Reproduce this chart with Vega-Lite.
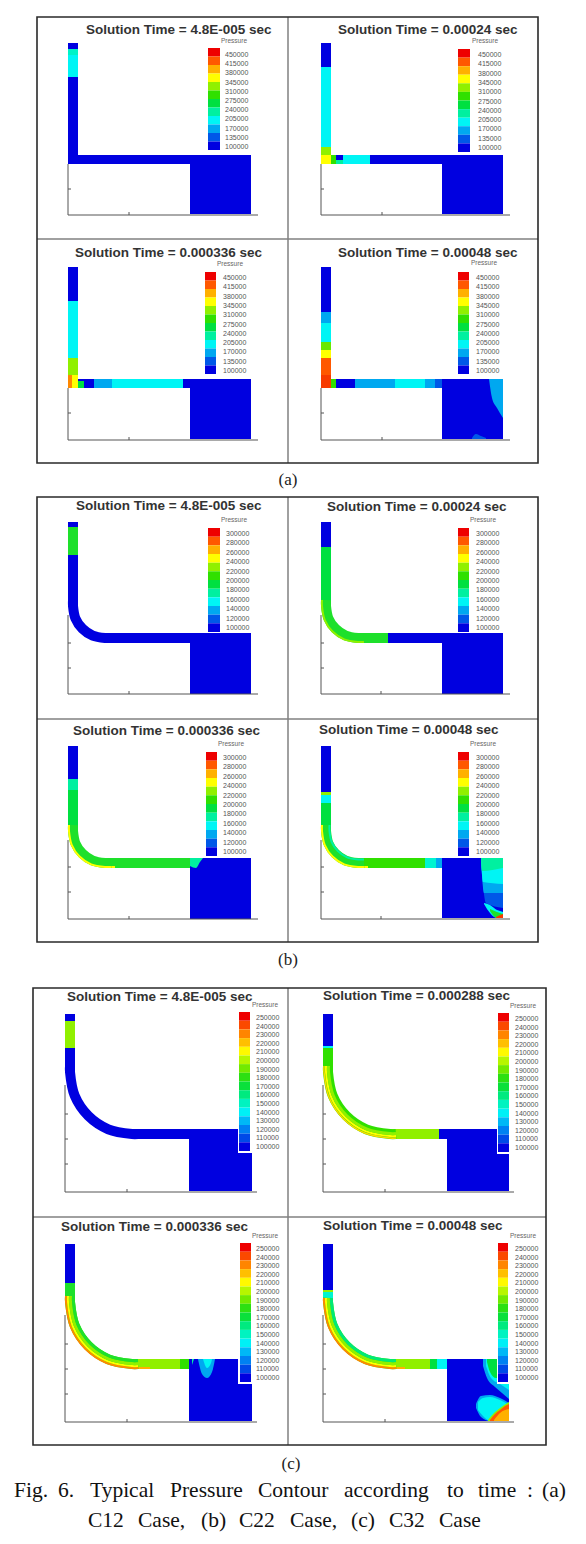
{"$schema":"https://vega.github.io/schema/vega-lite/v6.json","width":586,"height":1544,"padding":0,"autosize":{"type":"fit","contains":"padding"},"background":"white","config":{"view":{"stroke":null}},
"datasets":{
"cells":[
{"x":68,"x2":78,"y":43,"y2":164,"level":0},{"x":68,"x2":251,"y":155,"y2":164,"level":0},{"x":190,"x2":251,"y":155,"y2":214,"level":0},{"x":68,"x2":78,"y":49,"y2":55,"level":3.6},{"x":68,"x2":78,"y":55,"y2":77,"level":3},
{"x":321,"x2":331,"y":43,"y2":164,"level":0},{"x":321,"x2":503,"y":155,"y2":164,"level":0},{"x":442,"x2":503,"y":155,"y2":214,"level":0},{"x":321,"x2":331,"y":67,"y2":147,"level":3},{"x":321,"x2":331,"y":147,"y2":155,"level":7},{"x":321,"x2":331,"y":155,"y2":164,"level":8},{"x":331,"x2":336,"y":155,"y2":164,"level":6},{"x":336,"x2":343,"y":160,"y2":164,"level":4},{"x":343,"x2":370,"y":155,"y2":164,"level":3},
{"x":68,"x2":78,"y":267,"y2":388,"level":0},{"x":68,"x2":251,"y":379,"y2":388,"level":0},{"x":190,"x2":251,"y":379,"y2":439,"level":0},{"x":68,"x2":78,"y":301,"y2":358,"level":3},{"x":68,"x2":78,"y":358,"y2":375,"level":7},{"x":68,"x2":78,"y":375,"y2":388,"level":8},{"x":68,"x2":72,"y":375,"y2":388,"level":9.5},{"x":78,"x2":84,"y":381,"y2":388,"level":5},{"x":94,"x2":112,"y":379,"y2":388,"level":2},{"x":112,"x2":183,"y":379,"y2":388,"level":3},
{"x":321,"x2":331,"y":267,"y2":388,"level":0},{"x":321,"x2":503,"y":379,"y2":388,"level":0},{"x":442,"x2":503,"y":379,"y2":439,"level":0},{"x":321,"x2":331,"y":312,"y2":323,"level":2},{"x":321,"x2":331,"y":323,"y2":342,"level":3},{"x":321,"x2":331,"y":342,"y2":350,"level":6.5},{"x":321,"x2":331,"y":350,"y2":358,"level":8},{"x":321,"x2":331,"y":358,"y2":375,"level":10},{"x":321,"x2":331,"y":375,"y2":388,"level":10.5},{"x":331,"x2":336,"y":379,"y2":388,"level":6},{"x":355,"x2":395,"y":379,"y2":388,"level":2},{"x":395,"x2":425,"y":379,"y2":388,"level":3},{"x":425,"x2":435,"y":379,"y2":388,"level":2},{"x":435,"x2":442,"y":379,"y2":388,"level":1},
{"x":68,"x2":78,"y":522,"y2":606,"level":0},{"x":68,"x2":78,"y":527,"y2":555,"level":5.5},{"x":105,"x2":251,"y":633,"y2":643,"level":0},{"x":190,"x2":251,"y":633,"y2":694,"level":0},
{"x":321,"x2":331,"y":522,"y2":606,"level":0},{"x":321,"x2":331,"y":547,"y2":606,"level":5},{"x":358,"x2":503,"y":633,"y2":643,"level":0},{"x":358,"x2":388,"y":633,"y2":643,"level":5.5},{"x":442,"x2":503,"y":633,"y2":694,"level":0},
{"x":68,"x2":78,"y":746,"y2":831,"level":0},{"x":68,"x2":78,"y":779,"y2":790,"level":4},{"x":68,"x2":78,"y":790,"y2":831,"level":5},{"x":105,"x2":251,"y":858,"y2":868,"level":0},{"x":105,"x2":191,"y":858,"y2":868,"level":5.5},{"x":105,"x2":115,"y":866,"y2":868,"level":8},{"x":190,"x2":251,"y":858,"y2":919,"level":0},
{"x":321,"x2":331,"y":746,"y2":831,"level":0},{"x":321,"x2":331,"y":792,"y2":795,"level":7},{"x":321,"x2":331,"y":795,"y2":803,"level":3},{"x":321,"x2":331,"y":803,"y2":831,"level":5},{"x":358,"x2":503,"y":858,"y2":868,"level":0},{"x":358,"x2":425,"y":858,"y2":868,"level":6},{"x":358,"x2":368,"y":866,"y2":868,"level":8},{"x":425,"x2":436,"y":858,"y2":868,"level":3.5},{"x":436,"x2":442,"y":858,"y2":868,"level":2},{"x":442,"x2":503,"y":858,"y2":918,"level":0},
{"x":65,"x2":75,"y":1014,"y2":1072,"level":0},{"x":65,"x2":75,"y":1021,"y2":1048,"level":7},{"x":132,"x2":252,"y":1129,"y2":1139,"level":0},{"x":189,"x2":252,"y":1129,"y2":1191,"level":0},
{"x":323,"x2":333,"y":1014,"y2":1072,"level":0},{"x":323,"x2":333,"y":1046,"y2":1048,"level":3},{"x":323,"x2":333,"y":1048,"y2":1072,"level":6},{"x":390,"x2":509,"y":1129,"y2":1139,"level":0},{"x":390,"x2":439,"y":1129,"y2":1139,"level":7},{"x":447,"x2":509,"y":1129,"y2":1191,"level":0},
{"x":65,"x2":75,"y":1244,"y2":1302,"level":0},{"x":65,"x2":75,"y":1283,"y2":1297,"level":5.5},{"x":65,"x2":75,"y":1297,"y2":1302,"level":7},{"x":132,"x2":189,"y":1359,"y2":1369,"level":7},{"x":132,"x2":150,"y":1367,"y2":1369,"level":9},{"x":180,"x2":189,"y":1359,"y2":1369,"level":6},{"x":189,"x2":252,"y":1359,"y2":1421,"level":0},
{"x":323,"x2":333,"y":1244,"y2":1302,"level":0},{"x":323,"x2":333,"y":1290,"y2":1292,"level":7},{"x":323,"x2":333,"y":1292,"y2":1302,"level":3.5},{"x":390,"x2":430,"y":1359,"y2":1369,"level":7},{"x":390,"x2":405,"y":1367,"y2":1369,"level":9},{"x":430,"x2":437,"y":1359,"y2":1369,"level":5},{"x":437,"x2":447,"y":1359,"y2":1369,"level":3},{"x":447,"x2":509,"y":1359,"y2":1421,"level":0}
],
"bends":[
{"r":"b1","i":0,"x":73,"y":606,"w":10,"level":0},{"r":"b1","i":1,"x":75.4,"y":618.3,"w":10,"level":0},{"r":"b1","i":2,"x":82.4,"y":628.6,"w":10,"level":0},{"r":"b1","i":3,"x":92.7,"y":635.6,"w":10,"level":0},{"r":"b1","i":4,"x":105,"y":638,"w":10,"level":0},{"r":"b1","i":-1,"x":73,"y":600,"w":10,"level":0},{"r":"b1","i":5,"x":111,"y":638,"w":10,"level":0},
{"r":"b2","i":0,"x":326,"y":606,"w":10,"level":5.5},{"r":"b2","i":1,"x":328.4,"y":618.3,"w":10,"level":5.5},{"r":"b2","i":2,"x":335.4,"y":628.6,"w":10,"level":5.5},{"r":"b2","i":3,"x":345.7,"y":635.6,"w":10,"level":5.5},{"r":"b2","i":4,"x":358,"y":638,"w":10,"level":5.5},{"r":"b2","i":-1,"x":326,"y":600,"w":10,"level":5.5},{"r":"b2","i":5,"x":364,"y":638,"w":10,"level":5.5},
{"r":"b2o","i":0,"x":322,"y":606,"w":2,"level":7},{"r":"b2o","i":1,"x":324.7,"y":619.8,"w":2,"level":7},{"r":"b2o","i":2,"x":332.5,"y":631.5,"w":2,"level":7},{"r":"b2o","i":3,"x":344.2,"y":639.3,"w":2,"level":7},{"r":"b2o","i":4,"x":358,"y":642,"w":2,"level":7},{"r":"b2o","i":-1,"x":322,"y":600,"w":2,"level":7},{"r":"b2o","i":5,"x":364,"y":642,"w":2,"level":7},
{"r":"b3","i":0,"x":73,"y":831,"w":10,"level":5.5},{"r":"b3","i":1,"x":75.4,"y":843.3,"w":10,"level":5.5},{"r":"b3","i":2,"x":82.4,"y":853.6,"w":10,"level":5.5},{"r":"b3","i":3,"x":92.7,"y":860.6,"w":10,"level":5.5},{"r":"b3","i":4,"x":105,"y":863,"w":10,"level":5.5},{"r":"b3","i":-1,"x":73,"y":825,"w":10,"level":5.5},{"r":"b3","i":5,"x":111,"y":863,"w":10,"level":5.5},
{"r":"b3o","i":0,"x":69,"y":831,"w":2,"level":8},{"r":"b3o","i":1,"x":71.7,"y":844.8,"w":2,"level":8},{"r":"b3o","i":2,"x":79.5,"y":856.5,"w":2,"level":8},{"r":"b3o","i":3,"x":91.2,"y":864.3,"w":2,"level":8},{"r":"b3o","i":4,"x":105,"y":867,"w":2,"level":8},{"r":"b3o","i":-1,"x":69,"y":825,"w":2,"level":8},{"r":"b3o","i":5,"x":111,"y":867,"w":2,"level":8},
{"r":"b4","i":0,"x":326,"y":831,"w":10,"level":5.5},{"r":"b4","i":1,"x":328.4,"y":843.3,"w":10,"level":5.5},{"r":"b4","i":2,"x":335.4,"y":853.6,"w":10,"level":5.5},{"r":"b4","i":3,"x":345.7,"y":860.6,"w":10,"level":5.5},{"r":"b4","i":4,"x":358,"y":863,"w":10,"level":5.5},{"r":"b4","i":-1,"x":326,"y":825,"w":10,"level":5.5},{"r":"b4","i":5,"x":364,"y":863,"w":10,"level":5.5},
{"r":"b4o","i":0,"x":322,"y":831,"w":2,"level":8},{"r":"b4o","i":1,"x":324.7,"y":844.8,"w":2,"level":8},{"r":"b4o","i":2,"x":332.5,"y":856.5,"w":2,"level":8},{"r":"b4o","i":3,"x":344.2,"y":864.3,"w":2,"level":8},{"r":"b4o","i":4,"x":358,"y":867,"w":2,"level":8},{"r":"b4o","i":-1,"x":322,"y":825,"w":2,"level":8},{"r":"b4o","i":5,"x":364,"y":867,"w":2,"level":8},
{"r":"b4n","i":0,"x":329.5,"y":831,"w":2,"level":4},{"r":"b4n","i":1,"x":331.7,"y":842,"w":2,"level":4},{"r":"b4n","i":2,"x":337.9,"y":851.1,"w":2,"level":4},{"r":"b4n","i":3,"x":347.1,"y":857.3,"w":2,"level":4},{"r":"b4n","i":4,"x":358,"y":859.5,"w":2,"level":4},{"r":"b4n","i":-1,"x":329.5,"y":825,"w":2,"level":4},{"r":"b4n","i":5,"x":364,"y":859.5,"w":2,"level":4},
{"r":"c1","i":0,"x":70,"y":1072,"w":10,"level":0},{"r":"c1","i":1,"x":74.7,"y":1095.7,"w":10,"level":0},{"r":"c1","i":2,"x":88.2,"y":1115.8,"w":10,"level":0},{"r":"c1","i":3,"x":108.3,"y":1129.3,"w":10,"level":0},{"r":"c1","i":4,"x":132,"y":1134,"w":10,"level":0},{"r":"c1","i":-1,"x":70,"y":1066,"w":10,"level":0},{"r":"c1","i":5,"x":138,"y":1134,"w":10,"level":0},
{"r":"c2","i":0,"x":328,"y":1072,"w":10,"level":6},{"r":"c2","i":1,"x":332.7,"y":1095.7,"w":10,"level":6},{"r":"c2","i":2,"x":346.2,"y":1115.8,"w":10,"level":6},{"r":"c2","i":3,"x":366.3,"y":1129.3,"w":10,"level":6},{"r":"c2","i":4,"x":390,"y":1134,"w":10,"level":6},{"r":"c2","i":-1,"x":328,"y":1066,"w":10,"level":6},{"r":"c2","i":5,"x":396,"y":1134,"w":10,"level":6},
{"r":"c2a","i":0,"x":324,"y":1072,"w":1.5,"level":8.5},{"r":"c2a","i":1,"x":329,"y":1097.3,"w":1.5,"level":8.5},{"r":"c2a","i":2,"x":343.3,"y":1118.7,"w":1.5,"level":8.5},{"r":"c2a","i":3,"x":364.7,"y":1133,"w":1.5,"level":8.5},{"r":"c2a","i":4,"x":390,"y":1138,"w":1.5,"level":8.5},{"r":"c2a","i":-1,"x":324,"y":1066,"w":1.5,"level":8.5},{"r":"c2a","i":5,"x":396,"y":1138,"w":1.5,"level":8.5},
{"r":"c2b","i":0,"x":326,"y":1072,"w":2,"level":8},{"r":"c2b","i":1,"x":330.9,"y":1096.5,"w":2,"level":8},{"r":"c2b","i":2,"x":344.8,"y":1117.2,"w":2,"level":8},{"r":"c2b","i":3,"x":365.5,"y":1131.1,"w":2,"level":8},{"r":"c2b","i":4,"x":390,"y":1136,"w":2,"level":8},{"r":"c2b","i":-1,"x":326,"y":1066,"w":2,"level":8},{"r":"c2b","i":5,"x":396,"y":1136,"w":2,"level":8},
{"r":"c2c","i":0,"x":328.5,"y":1072,"w":3,"level":7},{"r":"c2c","i":1,"x":333.2,"y":1095.5,"w":3,"level":7},{"r":"c2c","i":2,"x":346.5,"y":1115.5,"w":3,"level":7},{"r":"c2c","i":3,"x":366.5,"y":1128.8,"w":3,"level":7},{"r":"c2c","i":4,"x":390,"y":1133.5,"w":3,"level":7},{"r":"c2c","i":-1,"x":328.5,"y":1066,"w":3,"level":7},{"r":"c2c","i":5,"x":396,"y":1133.5,"w":3,"level":7},
{"r":"c3","i":0,"x":70,"y":1302,"w":10,"level":6},{"r":"c3","i":1,"x":74.7,"y":1325.7,"w":10,"level":6},{"r":"c3","i":2,"x":88.2,"y":1345.8,"w":10,"level":6},{"r":"c3","i":3,"x":108.3,"y":1359.3,"w":10,"level":6},{"r":"c3","i":4,"x":132,"y":1364,"w":10,"level":6},{"r":"c3","i":-1,"x":70,"y":1296,"w":10,"level":6},{"r":"c3","i":5,"x":138,"y":1364,"w":10,"level":6},
{"r":"c3a","i":0,"x":66,"y":1302,"w":2,"level":9.5},{"r":"c3a","i":1,"x":71,"y":1327.3,"w":2,"level":9.5},{"r":"c3a","i":2,"x":85.3,"y":1348.7,"w":2,"level":9.5},{"r":"c3a","i":3,"x":106.7,"y":1363,"w":2,"level":9.5},{"r":"c3a","i":4,"x":132,"y":1368,"w":2,"level":9.5},{"r":"c3a","i":-1,"x":66,"y":1296,"w":2,"level":9.5},{"r":"c3a","i":5,"x":138,"y":1368,"w":2,"level":9.5},
{"r":"c3b","i":0,"x":68,"y":1302,"w":2,"level":8},{"r":"c3b","i":1,"x":72.9,"y":1326.5,"w":2,"level":8},{"r":"c3b","i":2,"x":86.8,"y":1347.2,"w":2,"level":8},{"r":"c3b","i":3,"x":107.5,"y":1361.1,"w":2,"level":8},{"r":"c3b","i":4,"x":132,"y":1366,"w":2,"level":8},{"r":"c3b","i":-1,"x":68,"y":1296,"w":2,"level":8},{"r":"c3b","i":5,"x":138,"y":1366,"w":2,"level":8},
{"r":"c3c","i":0,"x":70.5,"y":1302,"w":3,"level":7},{"r":"c3c","i":1,"x":75.2,"y":1325.5,"w":3,"level":7},{"r":"c3c","i":2,"x":88.5,"y":1345.5,"w":3,"level":7},{"r":"c3c","i":3,"x":108.5,"y":1358.8,"w":3,"level":7},{"r":"c3c","i":4,"x":132,"y":1363.5,"w":3,"level":7},{"r":"c3c","i":-1,"x":70.5,"y":1296,"w":3,"level":7},{"r":"c3c","i":5,"x":138,"y":1363.5,"w":3,"level":7},
{"r":"c3d","i":0,"x":73.5,"y":1302,"w":3,"level":5.5},{"r":"c3d","i":1,"x":77.9,"y":1324.4,"w":3,"level":5.5},{"r":"c3d","i":2,"x":90.6,"y":1343.4,"w":3,"level":5.5},{"r":"c3d","i":3,"x":109.6,"y":1356.1,"w":3,"level":5.5},{"r":"c3d","i":4,"x":132,"y":1360.5,"w":3,"level":5.5},{"r":"c3d","i":-1,"x":73.5,"y":1296,"w":3,"level":5.5},{"r":"c3d","i":5,"x":138,"y":1360.5,"w":3,"level":5.5},
{"r":"c4","i":0,"x":328,"y":1302,"w":10,"level":6},{"r":"c4","i":1,"x":332.7,"y":1325.7,"w":10,"level":6},{"r":"c4","i":2,"x":346.2,"y":1345.8,"w":10,"level":6},{"r":"c4","i":3,"x":366.3,"y":1359.3,"w":10,"level":6},{"r":"c4","i":4,"x":390,"y":1364,"w":10,"level":6},{"r":"c4","i":-1,"x":328,"y":1298,"w":10,"level":6},{"r":"c4","i":5,"x":396,"y":1364,"w":10,"level":6},
{"r":"c4a","i":0,"x":324,"y":1302,"w":2,"level":9.5},{"r":"c4a","i":1,"x":329,"y":1327.3,"w":2,"level":9.5},{"r":"c4a","i":2,"x":343.3,"y":1348.7,"w":2,"level":9.5},{"r":"c4a","i":3,"x":364.7,"y":1363,"w":2,"level":9.5},{"r":"c4a","i":4,"x":390,"y":1368,"w":2,"level":9.5},{"r":"c4a","i":-1,"x":324,"y":1298,"w":2,"level":9.5},{"r":"c4a","i":5,"x":396,"y":1368,"w":2,"level":9.5},
{"r":"c4b","i":0,"x":326,"y":1302,"w":2,"level":8},{"r":"c4b","i":1,"x":330.9,"y":1326.5,"w":2,"level":8},{"r":"c4b","i":2,"x":344.8,"y":1347.2,"w":2,"level":8},{"r":"c4b","i":3,"x":365.5,"y":1361.1,"w":2,"level":8},{"r":"c4b","i":4,"x":390,"y":1366,"w":2,"level":8},{"r":"c4b","i":-1,"x":326,"y":1298,"w":2,"level":8},{"r":"c4b","i":5,"x":396,"y":1366,"w":2,"level":8},
{"r":"c4c","i":0,"x":328.5,"y":1302,"w":3,"level":7},{"r":"c4c","i":1,"x":333.2,"y":1325.5,"w":3,"level":7},{"r":"c4c","i":2,"x":346.5,"y":1345.5,"w":3,"level":7},{"r":"c4c","i":3,"x":366.5,"y":1358.8,"w":3,"level":7},{"r":"c4c","i":4,"x":390,"y":1363.5,"w":3,"level":7},{"r":"c4c","i":-1,"x":328.5,"y":1298,"w":3,"level":7},{"r":"c4c","i":5,"x":396,"y":1363.5,"w":3,"level":7},
{"r":"c4d","i":0,"x":331.5,"y":1302,"w":3,"level":4.5},{"r":"c4d","i":1,"x":335.9,"y":1324.4,"w":3,"level":4.5},{"r":"c4d","i":2,"x":348.6,"y":1343.4,"w":3,"level":4.5},{"r":"c4d","i":3,"x":367.6,"y":1356.1,"w":3,"level":4.5},{"r":"c4d","i":4,"x":390,"y":1360.5,"w":3,"level":4.5},{"r":"c4d","i":-1,"x":331.5,"y":1298,"w":3,"level":4.5},{"r":"c4d","i":5,"x":396,"y":1360.5,"w":3,"level":4.5}
],
"blobs":[
{"r":"a4r","x":489,"y":379,"y2":379,"level":2},{"r":"a4r","x":492,"y":379,"y2":398,"level":2},{"r":"a4r","x":497,"y":379,"y2":408,"level":2},{"r":"a4r","x":503,"y":379,"y2":418,"level":2},
{"r":"a4b","x":472,"y":438,"y2":439,"level":1},{"r":"a4b","x":476,"y":434,"y2":439,"level":1},{"r":"a4b","x":481,"y":436,"y2":439,"level":1},{"r":"a4b","x":486,"y":438,"y2":439,"level":1},
{"r":"b3t","x":190,"y":858,"y2":866,"level":4},{"r":"b3t","x":196,"y":858,"y2":868,"level":4},{"r":"b3t","x":200,"y":858,"y2":862,"level":4},{"r":"b3t","x":203,"y":858,"y2":858,"level":4},
{"r":"b4l1","x":481,"y":858,"y2":858,"level":1},{"r":"b4l1","x":486,"y":858,"y2":903,"level":1},{"r":"b4l1","x":503,"y":858,"y2":908,"level":1},
{"r":"b4l2","x":481,"y":858,"y2":858,"level":2},{"r":"b4l2","x":484,"y":858,"y2":893,"level":2},{"r":"b4l2","x":503,"y":858,"y2":893,"level":2},
{"r":"b4l3","x":481,"y":858,"y2":858,"level":3},{"r":"b4l3","x":483,"y":858,"y2":882,"level":3},{"r":"b4l3","x":503,"y":858,"y2":884,"level":3},
{"r":"b4l4","x":481,"y":858,"y2":858,"level":4},{"r":"b4l4","x":482,"y":858,"y2":871,"level":4},{"r":"b4l4","x":503,"y":858,"y2":868,"level":4},
{"r":"b4c","x":484,"y":903,"y2":904,"level":3},{"r":"b4c","x":490,"y":905,"y2":913,"level":3},{"r":"b4c","x":497,"y":910,"y2":918,"level":3},{"r":"b4c","x":500,"y":911,"y2":918,"level":3},{"r":"b4c","x":503,"y":912,"y2":916,"level":3},
{"r":"b4g","x":490,"y":909,"y2":911,"level":5.5},{"r":"b4g","x":497,"y":912,"y2":918,"level":5.5},{"r":"b4g","x":500,"y":913,"y2":918,"level":5.5},{"r":"b4g","x":503,"y":914,"y2":918,"level":5.5},
{"r":"b4d","x":496,"y":917,"y2":918,"level":10.5},{"r":"b4d","x":500,"y":915,"y2":918,"level":10.5},{"r":"b4d","x":503,"y":914,"y2":918,"level":10.5},
{"r":"c3l","x":198,"y":1359,"y2":1359,"level":2},{"r":"c3l","x":202,"y":1359,"y2":1374,"level":2},{"r":"c3l","x":207,"y":1359,"y2":1378,"level":2},{"r":"c3l","x":212,"y":1359,"y2":1372,"level":2},{"r":"c3l","x":215,"y":1359,"y2":1359,"level":2},
{"r":"c3m","x":203,"y":1359,"y2":1359,"level":3},{"r":"c3m","x":207,"y":1359,"y2":1368,"level":3},{"r":"c3m","x":211,"y":1359,"y2":1363,"level":3},{"r":"c3m","x":212,"y":1359,"y2":1359,"level":3},
{"r":"c3g","x":189,"y":1359,"y2":1369,"level":5},{"r":"c3g","x":192,"y":1359,"y2":1365,"level":4},{"r":"c3g","x":194,"y":1359,"y2":1359,"level":4},
{"r":"c4u1","x":483,"y":1359,"y2":1366,"level":2},{"r":"c4u1","x":487,"y":1359,"y2":1378,"level":2},{"r":"c4u1","x":495,"y":1359,"y2":1387,"level":2},{"r":"c4u1","x":502,"y":1359,"y2":1393,"level":2},{"r":"c4u1","x":509,"y":1359,"y2":1399,"level":2},
{"r":"c4u2","x":486,"y":1359,"y2":1366,"level":3},{"r":"c4u2","x":491,"y":1359,"y2":1378,"level":3},{"r":"c4u2","x":500,"y":1359,"y2":1384,"level":3},{"r":"c4u2","x":509,"y":1359,"y2":1390,"level":3},
{"r":"c4u3","x":487,"y":1359,"y2":1362,"level":5},{"r":"c4u3","x":490,"y":1359,"y2":1372,"level":5},{"r":"c4u3","x":496,"y":1359,"y2":1378,"level":5},{"r":"c4u3","x":499,"y":1359,"y2":1378,"level":5},
{"r":"c4l1","x":476,"y":1404,"y2":1408,"level":2},{"r":"c4l1","x":481,"y":1396,"y2":1417,"level":2},{"r":"c4l1","x":490,"y":1395,"y2":1421,"level":2},{"r":"c4l1","x":500,"y":1398,"y2":1421,"level":2},{"r":"c4l1","x":509,"y":1403,"y2":1421,"level":2},
{"r":"c4l2","x":478,"y":1402,"y2":1410,"level":3},{"r":"c4l2","x":483,"y":1398,"y2":1416,"level":3},{"r":"c4l2","x":490,"y":1397,"y2":1421,"level":3},{"r":"c4l2","x":500,"y":1400,"y2":1421,"level":3},{"r":"c4l2","x":509,"y":1405,"y2":1421,"level":3},
{"r":"c4l3","x":488,"y":1420,"y2":1421,"level":7},{"r":"c4l3","x":495,"y":1412,"y2":1421,"level":7},{"r":"c4l3","x":500,"y":1408,"y2":1421,"level":7},{"r":"c4l3","x":509,"y":1402,"y2":1421,"level":7},
{"r":"c4l4","x":490,"y":1420,"y2":1421,"level":10},{"r":"c4l4","x":495,"y":1414,"y2":1421,"level":10},{"r":"c4l4","x":500,"y":1410,"y2":1421,"level":10},{"r":"c4l4","x":505,"y":1406,"y2":1421,"level":10},{"r":"c4l4","x":509,"y":1404,"y2":1421,"level":10},
{"r":"c4l5","x":494,"y":1420,"y2":1421,"level":9},{"r":"c4l5","x":500,"y":1413,"y2":1421,"level":9},{"r":"c4l5","x":509,"y":1409,"y2":1421,"level":9}
],
"legendBacks":[{"x":238,"x2":252,"y":1010,"y2":1153},{"x":497,"x2":511,"y":1011,"y2":1154},{"x":238,"x2":252,"y":1241,"y2":1384},{"x":497,"x2":510,"y":1241,"y2":1384}],
"legendBars":[
{"x":208,"x2":220,"y":48,"y2":56.5,"level":11},{"x":208,"x2":220,"y":56.5,"y2":65,"level":10},{"x":208,"x2":220,"y":65,"y2":73.5,"level":9},{"x":208,"x2":220,"y":73.5,"y2":82,"level":8},{"x":208,"x2":220,"y":82,"y2":90.5,"level":7},{"x":208,"x2":220,"y":90.5,"y2":99,"level":6},{"x":208,"x2":220,"y":99,"y2":107.5,"level":5},{"x":208,"x2":220,"y":107.5,"y2":116,"level":4},{"x":208,"x2":220,"y":116,"y2":124.5,"level":3},{"x":208,"x2":220,"y":124.5,"y2":133,"level":2},{"x":208,"x2":220,"y":133,"y2":141.5,"level":1},{"x":208,"x2":220,"y":141.5,"y2":150,"level":0},
{"x":458,"x2":470,"y":49,"y2":57.6,"level":11},{"x":458,"x2":470,"y":57.6,"y2":66.2,"level":10},{"x":458,"x2":470,"y":66.2,"y2":74.7,"level":9},{"x":458,"x2":470,"y":74.7,"y2":83.3,"level":8},{"x":458,"x2":470,"y":83.3,"y2":91.9,"level":7},{"x":458,"x2":470,"y":91.9,"y2":100.5,"level":6},{"x":458,"x2":470,"y":100.5,"y2":109.1,"level":5},{"x":458,"x2":470,"y":109.1,"y2":117.7,"level":4},{"x":458,"x2":470,"y":117.7,"y2":126.2,"level":3},{"x":458,"x2":470,"y":126.2,"y2":134.8,"level":2},{"x":458,"x2":470,"y":134.8,"y2":143.4,"level":1},{"x":458,"x2":470,"y":143.4,"y2":152,"level":0},
{"x":205,"x2":216,"y":272,"y2":280.5,"level":11},{"x":205,"x2":216,"y":280.5,"y2":289,"level":10},{"x":205,"x2":216,"y":289,"y2":297.5,"level":9},{"x":205,"x2":216,"y":297.5,"y2":306,"level":8},{"x":205,"x2":216,"y":306,"y2":314.5,"level":7},{"x":205,"x2":216,"y":314.5,"y2":323,"level":6},{"x":205,"x2":216,"y":323,"y2":331.5,"level":5},{"x":205,"x2":216,"y":331.5,"y2":340,"level":4},{"x":205,"x2":216,"y":340,"y2":348.5,"level":3},{"x":205,"x2":216,"y":348.5,"y2":357,"level":2},{"x":205,"x2":216,"y":357,"y2":365.5,"level":1},{"x":205,"x2":216,"y":365.5,"y2":374,"level":0},
{"x":458,"x2":469,"y":272,"y2":280.5,"level":11},{"x":458,"x2":469,"y":280.5,"y2":289,"level":10},{"x":458,"x2":469,"y":289,"y2":297.5,"level":9},{"x":458,"x2":469,"y":297.5,"y2":306,"level":8},{"x":458,"x2":469,"y":306,"y2":314.5,"level":7},{"x":458,"x2":469,"y":314.5,"y2":323,"level":6},{"x":458,"x2":469,"y":323,"y2":331.5,"level":5},{"x":458,"x2":469,"y":331.5,"y2":340,"level":4},{"x":458,"x2":469,"y":340,"y2":348.5,"level":3},{"x":458,"x2":469,"y":348.5,"y2":357,"level":2},{"x":458,"x2":469,"y":357,"y2":365.5,"level":1},{"x":458,"x2":469,"y":365.5,"y2":374,"level":0},
{"x":208,"x2":220,"y":528,"y2":536.7,"level":11},{"x":208,"x2":220,"y":536.7,"y2":545.3,"level":10},{"x":208,"x2":220,"y":545.3,"y2":554,"level":9},{"x":208,"x2":220,"y":554,"y2":562.7,"level":8},{"x":208,"x2":220,"y":562.7,"y2":571.3,"level":7},{"x":208,"x2":220,"y":571.3,"y2":580,"level":6},{"x":208,"x2":220,"y":580,"y2":588.7,"level":5},{"x":208,"x2":220,"y":588.7,"y2":597.3,"level":4},{"x":208,"x2":220,"y":597.3,"y2":606,"level":3},{"x":208,"x2":220,"y":606,"y2":614.7,"level":2},{"x":208,"x2":220,"y":614.7,"y2":623.3,"level":1},{"x":208,"x2":220,"y":623.3,"y2":632,"level":0},
{"x":458,"x2":469,"y":528,"y2":536.7,"level":11},{"x":458,"x2":469,"y":536.7,"y2":545.3,"level":10},{"x":458,"x2":469,"y":545.3,"y2":554,"level":9},{"x":458,"x2":469,"y":554,"y2":562.7,"level":8},{"x":458,"x2":469,"y":562.7,"y2":571.3,"level":7},{"x":458,"x2":469,"y":571.3,"y2":580,"level":6},{"x":458,"x2":469,"y":580,"y2":588.7,"level":5},{"x":458,"x2":469,"y":588.7,"y2":597.3,"level":4},{"x":458,"x2":469,"y":597.3,"y2":606,"level":3},{"x":458,"x2":469,"y":606,"y2":614.7,"level":2},{"x":458,"x2":469,"y":614.7,"y2":623.3,"level":1},{"x":458,"x2":469,"y":623.3,"y2":632,"level":0},
{"x":206,"x2":217,"y":752,"y2":760.7,"level":11},{"x":206,"x2":217,"y":760.7,"y2":769.3,"level":10},{"x":206,"x2":217,"y":769.3,"y2":778,"level":9},{"x":206,"x2":217,"y":778,"y2":786.7,"level":8},{"x":206,"x2":217,"y":786.7,"y2":795.3,"level":7},{"x":206,"x2":217,"y":795.3,"y2":804,"level":6},{"x":206,"x2":217,"y":804,"y2":812.7,"level":5},{"x":206,"x2":217,"y":812.7,"y2":821.3,"level":4},{"x":206,"x2":217,"y":821.3,"y2":830,"level":3},{"x":206,"x2":217,"y":830,"y2":838.7,"level":2},{"x":206,"x2":217,"y":838.7,"y2":847.3,"level":1},{"x":206,"x2":217,"y":847.3,"y2":856,"level":0},
{"x":458,"x2":469,"y":752,"y2":760.7,"level":11},{"x":458,"x2":469,"y":760.7,"y2":769.3,"level":10},{"x":458,"x2":469,"y":769.3,"y2":778,"level":9},{"x":458,"x2":469,"y":778,"y2":786.7,"level":8},{"x":458,"x2":469,"y":786.7,"y2":795.3,"level":7},{"x":458,"x2":469,"y":795.3,"y2":804,"level":6},{"x":458,"x2":469,"y":804,"y2":812.7,"level":5},{"x":458,"x2":469,"y":812.7,"y2":821.3,"level":4},{"x":458,"x2":469,"y":821.3,"y2":830,"level":3},{"x":458,"x2":469,"y":830,"y2":838.7,"level":2},{"x":458,"x2":469,"y":838.7,"y2":847.3,"level":1},{"x":458,"x2":469,"y":847.3,"y2":856,"level":0},
{"x":239,"x2":250,"y":1012,"y2":1020.7,"level":11},{"x":239,"x2":250,"y":1020.7,"y2":1029.4,"level":10.27},{"x":239,"x2":250,"y":1029.4,"y2":1038.1,"level":9.53},{"x":239,"x2":250,"y":1038.1,"y2":1046.8,"level":8.8},{"x":239,"x2":250,"y":1046.8,"y2":1055.5,"level":8.07},{"x":239,"x2":250,"y":1055.5,"y2":1064.1,"level":7.33},{"x":239,"x2":250,"y":1064.1,"y2":1072.8,"level":6.6},{"x":239,"x2":250,"y":1072.8,"y2":1081.5,"level":5.87},{"x":239,"x2":250,"y":1081.5,"y2":1090.2,"level":5.13},{"x":239,"x2":250,"y":1090.2,"y2":1098.9,"level":4.4},{"x":239,"x2":250,"y":1098.9,"y2":1107.6,"level":3.67},{"x":239,"x2":250,"y":1107.6,"y2":1116.3,"level":2.93},{"x":239,"x2":250,"y":1116.3,"y2":1125,"level":2.2},{"x":239,"x2":250,"y":1125,"y2":1133.7,"level":1.47},{"x":239,"x2":250,"y":1133.7,"y2":1142.3,"level":0.73},{"x":239,"x2":250,"y":1142.3,"y2":1151,"level":0},
{"x":498,"x2":509,"y":1013,"y2":1021.7,"level":11},{"x":498,"x2":509,"y":1021.7,"y2":1030.4,"level":10.27},{"x":498,"x2":509,"y":1030.4,"y2":1039.1,"level":9.53},{"x":498,"x2":509,"y":1039.1,"y2":1047.8,"level":8.8},{"x":498,"x2":509,"y":1047.8,"y2":1056.5,"level":8.07},{"x":498,"x2":509,"y":1056.5,"y2":1065.1,"level":7.33},{"x":498,"x2":509,"y":1065.1,"y2":1073.8,"level":6.6},{"x":498,"x2":509,"y":1073.8,"y2":1082.5,"level":5.87},{"x":498,"x2":509,"y":1082.5,"y2":1091.2,"level":5.13},{"x":498,"x2":509,"y":1091.2,"y2":1099.9,"level":4.4},{"x":498,"x2":509,"y":1099.9,"y2":1108.6,"level":3.67},{"x":498,"x2":509,"y":1108.6,"y2":1117.3,"level":2.93},{"x":498,"x2":509,"y":1117.3,"y2":1126,"level":2.2},{"x":498,"x2":509,"y":1126,"y2":1134.7,"level":1.47},{"x":498,"x2":509,"y":1134.7,"y2":1143.3,"level":0.73},{"x":498,"x2":509,"y":1143.3,"y2":1152,"level":0},
{"x":240,"x2":251,"y":1243,"y2":1251.7,"level":11},{"x":240,"x2":251,"y":1251.7,"y2":1260.4,"level":10.27},{"x":240,"x2":251,"y":1260.4,"y2":1269.1,"level":9.53},{"x":240,"x2":251,"y":1269.1,"y2":1277.8,"level":8.8},{"x":240,"x2":251,"y":1277.8,"y2":1286.5,"level":8.07},{"x":240,"x2":251,"y":1286.5,"y2":1295.1,"level":7.33},{"x":240,"x2":251,"y":1295.1,"y2":1303.8,"level":6.6},{"x":240,"x2":251,"y":1303.8,"y2":1312.5,"level":5.87},{"x":240,"x2":251,"y":1312.5,"y2":1321.2,"level":5.13},{"x":240,"x2":251,"y":1321.2,"y2":1329.9,"level":4.4},{"x":240,"x2":251,"y":1329.9,"y2":1338.6,"level":3.67},{"x":240,"x2":251,"y":1338.6,"y2":1347.3,"level":2.93},{"x":240,"x2":251,"y":1347.3,"y2":1356,"level":2.2},{"x":240,"x2":251,"y":1356,"y2":1364.7,"level":1.47},{"x":240,"x2":251,"y":1364.7,"y2":1373.3,"level":0.73},{"x":240,"x2":251,"y":1373.3,"y2":1382,"level":0},
{"x":498,"x2":508,"y":1243,"y2":1251.7,"level":11},{"x":498,"x2":508,"y":1251.7,"y2":1260.4,"level":10.27},{"x":498,"x2":508,"y":1260.4,"y2":1269.1,"level":9.53},{"x":498,"x2":508,"y":1269.1,"y2":1277.8,"level":8.8},{"x":498,"x2":508,"y":1277.8,"y2":1286.5,"level":8.07},{"x":498,"x2":508,"y":1286.5,"y2":1295.1,"level":7.33},{"x":498,"x2":508,"y":1295.1,"y2":1303.8,"level":6.6},{"x":498,"x2":508,"y":1303.8,"y2":1312.5,"level":5.87},{"x":498,"x2":508,"y":1312.5,"y2":1321.2,"level":5.13},{"x":498,"x2":508,"y":1321.2,"y2":1329.9,"level":4.4},{"x":498,"x2":508,"y":1329.9,"y2":1338.6,"level":3.67},{"x":498,"x2":508,"y":1338.6,"y2":1347.3,"level":2.93},{"x":498,"x2":508,"y":1347.3,"y2":1356,"level":2.2},{"x":498,"x2":508,"y":1356,"y2":1364.7,"level":1.47},{"x":498,"x2":508,"y":1364.7,"y2":1373.3,"level":0.73},{"x":498,"x2":508,"y":1373.3,"y2":1382,"level":0}
],
"legendLabels":[
{"x":225,"y":55,"t":"450000"},{"x":225,"y":64.2,"t":"415000"},{"x":225,"y":73.4,"t":"380000"},{"x":225,"y":82.6,"t":"345000"},{"x":225,"y":91.8,"t":"310000"},{"x":225,"y":101,"t":"275000"},{"x":225,"y":110.2,"t":"240000"},{"x":225,"y":119.4,"t":"205000"},{"x":225,"y":128.6,"t":"170000"},{"x":225,"y":137.8,"t":"135000"},{"x":225,"y":147,"t":"100000"},
{"x":478,"y":55,"t":"450000"},{"x":478,"y":64.3,"t":"415000"},{"x":478,"y":73.6,"t":"380000"},{"x":478,"y":82.9,"t":"345000"},{"x":478,"y":92.2,"t":"310000"},{"x":478,"y":101.5,"t":"275000"},{"x":478,"y":110.8,"t":"240000"},{"x":478,"y":120.1,"t":"205000"},{"x":478,"y":129.4,"t":"170000"},{"x":478,"y":138.7,"t":"135000"},{"x":478,"y":148,"t":"100000"},
{"x":223,"y":278,"t":"450000"},{"x":223,"y":287.3,"t":"415000"},{"x":223,"y":296.6,"t":"380000"},{"x":223,"y":305.9,"t":"345000"},{"x":223,"y":315.2,"t":"310000"},{"x":223,"y":324.5,"t":"275000"},{"x":223,"y":333.8,"t":"240000"},{"x":223,"y":343.1,"t":"205000"},{"x":223,"y":352.4,"t":"170000"},{"x":223,"y":361.7,"t":"135000"},{"x":223,"y":371,"t":"100000"},
{"x":476,"y":278,"t":"450000"},{"x":476,"y":287.3,"t":"415000"},{"x":476,"y":296.6,"t":"380000"},{"x":476,"y":305.9,"t":"345000"},{"x":476,"y":315.2,"t":"310000"},{"x":476,"y":324.5,"t":"275000"},{"x":476,"y":333.8,"t":"240000"},{"x":476,"y":343.1,"t":"205000"},{"x":476,"y":352.4,"t":"170000"},{"x":476,"y":361.7,"t":"135000"},{"x":476,"y":371,"t":"100000"},
{"x":226,"y":534,"t":"300000"},{"x":226,"y":543.4,"t":"280000"},{"x":226,"y":552.8,"t":"260000"},{"x":226,"y":562.2,"t":"240000"},{"x":226,"y":571.6,"t":"220000"},{"x":226,"y":581,"t":"200000"},{"x":226,"y":590.4,"t":"180000"},{"x":226,"y":599.8,"t":"160000"},{"x":226,"y":609.2,"t":"140000"},{"x":226,"y":618.6,"t":"120000"},{"x":226,"y":628,"t":"100000"},
{"x":476,"y":534,"t":"300000"},{"x":476,"y":543.4,"t":"280000"},{"x":476,"y":552.8,"t":"260000"},{"x":476,"y":562.2,"t":"240000"},{"x":476,"y":571.6,"t":"220000"},{"x":476,"y":581,"t":"200000"},{"x":476,"y":590.4,"t":"180000"},{"x":476,"y":599.8,"t":"160000"},{"x":476,"y":609.2,"t":"140000"},{"x":476,"y":618.6,"t":"120000"},{"x":476,"y":628,"t":"100000"},
{"x":223,"y":758,"t":"300000"},{"x":223,"y":767.4,"t":"280000"},{"x":223,"y":776.8,"t":"260000"},{"x":223,"y":786.2,"t":"240000"},{"x":223,"y":795.6,"t":"220000"},{"x":223,"y":805,"t":"200000"},{"x":223,"y":814.4,"t":"180000"},{"x":223,"y":823.8,"t":"160000"},{"x":223,"y":833.2,"t":"140000"},{"x":223,"y":842.6,"t":"120000"},{"x":223,"y":852,"t":"100000"},
{"x":476,"y":758,"t":"300000"},{"x":476,"y":767.4,"t":"280000"},{"x":476,"y":776.8,"t":"260000"},{"x":476,"y":786.2,"t":"240000"},{"x":476,"y":795.6,"t":"220000"},{"x":476,"y":805,"t":"200000"},{"x":476,"y":814.4,"t":"180000"},{"x":476,"y":823.8,"t":"160000"},{"x":476,"y":833.2,"t":"140000"},{"x":476,"y":842.6,"t":"120000"},{"x":476,"y":852,"t":"100000"},
{"x":256,"y":1018,"t":"250000"},{"x":256,"y":1026.6,"t":"240000"},{"x":256,"y":1035.2,"t":"230000"},{"x":256,"y":1043.8,"t":"220000"},{"x":256,"y":1052.4,"t":"210000"},{"x":256,"y":1061,"t":"200000"},{"x":256,"y":1069.6,"t":"190000"},{"x":256,"y":1078.2,"t":"180000"},{"x":256,"y":1086.8,"t":"170000"},{"x":256,"y":1095.4,"t":"160000"},{"x":256,"y":1104,"t":"150000"},{"x":256,"y":1112.6,"t":"140000"},{"x":256,"y":1121.2,"t":"130000"},{"x":256,"y":1129.8,"t":"120000"},{"x":256,"y":1138.4,"t":"110000"},{"x":256,"y":1147,"t":"100000"},
{"x":515,"y":1019,"t":"250000"},{"x":515,"y":1027.6,"t":"240000"},{"x":515,"y":1036.2,"t":"230000"},{"x":515,"y":1044.8,"t":"220000"},{"x":515,"y":1053.4,"t":"210000"},{"x":515,"y":1062,"t":"200000"},{"x":515,"y":1070.6,"t":"190000"},{"x":515,"y":1079.2,"t":"180000"},{"x":515,"y":1087.8,"t":"170000"},{"x":515,"y":1096.4,"t":"160000"},{"x":515,"y":1105,"t":"150000"},{"x":515,"y":1113.6,"t":"140000"},{"x":515,"y":1122.2,"t":"130000"},{"x":515,"y":1130.8,"t":"120000"},{"x":515,"y":1139.4,"t":"110000"},{"x":515,"y":1148,"t":"100000"},
{"x":256,"y":1249,"t":"250000"},{"x":256,"y":1257.6,"t":"240000"},{"x":256,"y":1266.2,"t":"230000"},{"x":256,"y":1274.8,"t":"220000"},{"x":256,"y":1283.4,"t":"210000"},{"x":256,"y":1292,"t":"200000"},{"x":256,"y":1300.6,"t":"190000"},{"x":256,"y":1309.2,"t":"180000"},{"x":256,"y":1317.8,"t":"170000"},{"x":256,"y":1326.4,"t":"160000"},{"x":256,"y":1335,"t":"150000"},{"x":256,"y":1343.6,"t":"140000"},{"x":256,"y":1352.2,"t":"130000"},{"x":256,"y":1360.8,"t":"120000"},{"x":256,"y":1369.4,"t":"110000"},{"x":256,"y":1378,"t":"100000"},
{"x":515,"y":1249,"t":"250000"},{"x":515,"y":1257.6,"t":"240000"},{"x":515,"y":1266.2,"t":"230000"},{"x":515,"y":1274.8,"t":"220000"},{"x":515,"y":1283.4,"t":"210000"},{"x":515,"y":1292,"t":"200000"},{"x":515,"y":1300.6,"t":"190000"},{"x":515,"y":1309.2,"t":"180000"},{"x":515,"y":1317.8,"t":"170000"},{"x":515,"y":1326.4,"t":"160000"},{"x":515,"y":1335,"t":"150000"},{"x":515,"y":1343.6,"t":"140000"},{"x":515,"y":1352.2,"t":"130000"},{"x":515,"y":1360.8,"t":"120000"},{"x":515,"y":1369.4,"t":"110000"},{"x":515,"y":1378,"t":"100000"}
],
"legendTitles":[{"x":221,"y":41},{"x":472,"y":41},{"x":217,"y":264},{"x":471,"y":263},{"x":221,"y":520},{"x":470,"y":520},{"x":218,"y":744},{"x":470,"y":744},{"x":252,"y":1005},{"x":510,"y":1006},{"x":252,"y":1236},{"x":510,"y":1236}],
"titles":[
{"x":86,"y":30,"t":"Solution Time = 4.8E-005 sec"},{"x":338,"y":30,"t":"Solution Time = 0.00024 sec"},{"x":75,"y":253,"t":"Solution Time = 0.000336 sec"},{"x":338,"y":253,"t":"Solution Time = 0.00048 sec"},
{"x":76,"y":506,"t":"Solution Time = 4.8E-005 sec"},{"x":327,"y":507,"t":"Solution Time = 0.00024 sec"},{"x":73,"y":731,"t":"Solution Time = 0.000336 sec"},{"x":319,"y":730,"t":"Solution Time = 0.00048 sec"},
{"x":67,"y":997,"t":"Solution Time = 4.8E-005 sec"},{"x":323,"y":996,"t":"Solution Time = 0.000288 sec"},{"x":61,"y":1227,"t":"Solution Time = 0.000336 sec"},{"x":323,"y":1226,"t":"Solution Time = 0.00048 sec"}
],
"frames":[{"x":37,"x2":538,"y":17,"y2":463},{"x":37,"x2":538,"y":497,"y2":942},{"x":33,"x2":546,"y":988,"y2":1445}],
"dividers":[{"x":288,"x2":288,"y":17,"y2":463},{"x":37,"x2":538,"y":239,"y2":239},{"x":288,"x2":288,"y":497,"y2":942},{"x":37,"x2":538,"y":719,"y2":719},{"x":288,"x2":288,"y":988,"y2":1445},{"x":33,"x2":546,"y":1217,"y2":1217}],
"axes":[
{"x":68,"x2":258,"y":215,"y2":215},{"x":68,"x2":68,"y":164,"y2":215},{"x":68,"x2":71,"y":189,"y2":189},{"x":129,"x2":129,"y":212,"y2":215},
{"x":321,"x2":510,"y":215,"y2":215},{"x":321,"x2":321,"y":164,"y2":215},{"x":321,"x2":324,"y":189,"y2":189},{"x":382,"x2":382,"y":212,"y2":215},
{"x":68,"x2":258,"y":440,"y2":440},{"x":68,"x2":68,"y":388,"y2":440},{"x":68,"x2":71,"y":413,"y2":413},{"x":129,"x2":129,"y":437,"y2":440},
{"x":321,"x2":510,"y":440,"y2":440},{"x":321,"x2":321,"y":388,"y2":440},{"x":321,"x2":324,"y":413,"y2":413},{"x":382,"x2":382,"y":437,"y2":440},
{"x":68,"x2":258,"y":694,"y2":694},{"x":68,"x2":68,"y":615,"y2":694},{"x":68,"x2":71,"y":643,"y2":643},{"x":68,"x2":71,"y":668,"y2":668},{"x":129,"x2":129,"y":691,"y2":694},
{"x":321,"x2":510,"y":694,"y2":694},{"x":321,"x2":321,"y":615,"y2":694},{"x":321,"x2":324,"y":643,"y2":643},{"x":321,"x2":324,"y":668,"y2":668},{"x":381,"x2":381,"y":691,"y2":694},
{"x":68,"x2":258,"y":919,"y2":919},{"x":68,"x2":68,"y":840,"y2":919},{"x":68,"x2":71,"y":867,"y2":867},{"x":68,"x2":71,"y":892,"y2":892},{"x":129,"x2":129,"y":916,"y2":919},
{"x":321,"x2":510,"y":919,"y2":919},{"x":321,"x2":321,"y":840,"y2":919},{"x":321,"x2":324,"y":867,"y2":867},{"x":321,"x2":324,"y":892,"y2":892},{"x":381,"x2":381,"y":916,"y2":919},
{"x":65,"x2":257,"y":1192,"y2":1192},{"x":65,"x2":65,"y":1085,"y2":1192},{"x":65,"x2":68,"y":1114,"y2":1114},{"x":65,"x2":68,"y":1139,"y2":1139},{"x":65,"x2":68,"y":1164,"y2":1164},{"x":127,"x2":127,"y":1189,"y2":1192},
{"x":323,"x2":514,"y":1192,"y2":1192},{"x":323,"x2":323,"y":1085,"y2":1192},{"x":323,"x2":326,"y":1114,"y2":1114},{"x":323,"x2":326,"y":1139,"y2":1139},{"x":323,"x2":326,"y":1164,"y2":1164},{"x":385,"x2":385,"y":1189,"y2":1192},
{"x":65,"x2":257,"y":1422,"y2":1422},{"x":65,"x2":65,"y":1315,"y2":1422},{"x":65,"x2":68,"y":1344,"y2":1344},{"x":65,"x2":68,"y":1369,"y2":1369},{"x":65,"x2":68,"y":1394,"y2":1394},{"x":127,"x2":127,"y":1419,"y2":1422},
{"x":323,"x2":514,"y":1422,"y2":1422},{"x":323,"x2":323,"y":1315,"y2":1422},{"x":323,"x2":326,"y":1344,"y2":1344},{"x":323,"x2":326,"y":1369,"y2":1369},{"x":323,"x2":326,"y":1394,"y2":1394},{"x":385,"x2":385,"y":1419,"y2":1422}
],
"subLabels":[{"x":288,"y":480,"t":"(a)"},{"x":288,"y":960,"t":"(b)"},{"x":291,"y":1464,"t":"(c)"}],
"captionWords":[
{"x":14,"y":1491,"t":"Fig."},{"x":58,"y":1491,"t":"6."},{"x":90,"y":1491,"t":"Typical"},{"x":170,"y":1491,"t":"Pressure"},{"x":258,"y":1491,"t":"Contour"},{"x":344,"y":1491,"t":"according"},{"x":447,"y":1491,"t":"to"},{"x":478,"y":1491,"t":"time"},{"x":527,"y":1491,"t":":"},{"x":542,"y":1491,"t":"(a)"},
{"x":88,"y":1521,"t":"C12"},{"x":138,"y":1521,"t":"Case,"},{"x":201,"y":1521,"t":"(b)"},{"x":239,"y":1521,"t":"C22"},{"x":290,"y":1521,"t":"Case,"},{"x":351,"y":1521,"t":"(c)"},{"x":389,"y":1521,"t":"C32"},{"x":439,"y":1521,"t":"Case"}
]
},
"encoding":{
"x":{"field":"x","type":"quantitative","scale":{"domain":[0,586],"nice":false,"zero":false},"axis":null},
"y":{"field":"y","type":"quantitative","scale":{"domain":[1544,0],"nice":false,"zero":false},"axis":null}
},
"layer":[
{"data":{"name":"cells"},"mark":{"type":"rect"},"encoding":{"x2":{"field":"x2"},"y2":{"field":"y2"},"color":{"field":"level","type":"quantitative","legend":null,"scale":{"domain":[0,1,2,3,4,5,6,7,8,9,10,11],"range":["#0000e0","#0058e8","#00a8f0","#00f5f5","#00f0a0","#00e040","#30e000","#90f000","#ffff00","#ffb000","#ff5800","#ee0000"]}}}},
{"data":{"name":"bends"},"mark":{"type":"line","strokeCap":"butt","interpolate":"catmull-rom"},"encoding":{"detail":{"field":"r"},"order":{"field":"i","type":"quantitative"},"strokeWidth":{"field":"w","type":"quantitative","scale":null},"color":{"field":"level","type":"quantitative"}}},
{"data":{"name":"blobs"},"mark":{"type":"area","interpolate":"monotone"},"encoding":{"detail":{"field":"r"},"y2":{"field":"y2"},"color":{"field":"level","type":"quantitative"}}},
{"data":{"name":"axes"},"mark":{"type":"rule","color":"#555","strokeWidth":1},"encoding":{"x2":{"field":"x2"},"y2":{"field":"y2"}}},
{"data":{"name":"legendBacks"},"mark":{"type":"rect","color":"#ffffff"},"encoding":{"x2":{"field":"x2"},"y2":{"field":"y2"}}},
{"data":{"name":"legendBars"},"mark":{"type":"rect"},"encoding":{"x2":{"field":"x2"},"y2":{"field":"y2"},"color":{"field":"level","type":"quantitative"}}},
{"data":{"name":"dividers"},"mark":{"type":"rule","color":"#808080","strokeWidth":1.5},"encoding":{"x2":{"field":"x2"},"y2":{"field":"y2"}}},
{"data":{"name":"frames"},"mark":{"type":"rect","fill":null,"fillOpacity":0,"stroke":"#2a2a2a","strokeWidth":1.6},"encoding":{"x2":{"field":"x2"},"y2":{"field":"y2"}}},
{"data":{"name":"titles"},"mark":{"type":"text","align":"left","baseline":"middle","font":"Liberation Sans","fontWeight":"bold","fontSize":13.5,"color":"#333333"},"encoding":{"text":{"field":"t"}}},
{"data":{"name":"legendLabels"},"mark":{"type":"text","align":"left","baseline":"middle","font":"Liberation Sans","fontSize":7,"color":"#555555"},"encoding":{"text":{"field":"t"}}},
{"data":{"name":"legendTitles"},"mark":{"type":"text","align":"left","baseline":"middle","font":"Liberation Sans","fontSize":6.5,"color":"#666666","text":"Pressure"}},
{"data":{"name":"subLabels"},"mark":{"type":"text","align":"center","baseline":"middle","font":"Liberation Serif","fontSize":17,"color":"#222222"},"encoding":{"text":{"field":"t"}}},
{"data":{"name":"captionWords"},"mark":{"type":"text","align":"left","baseline":"middle","font":"Liberation Serif","fontSize":21.5,"color":"#111111"},"encoding":{"text":{"field":"t"}}}
]
}
